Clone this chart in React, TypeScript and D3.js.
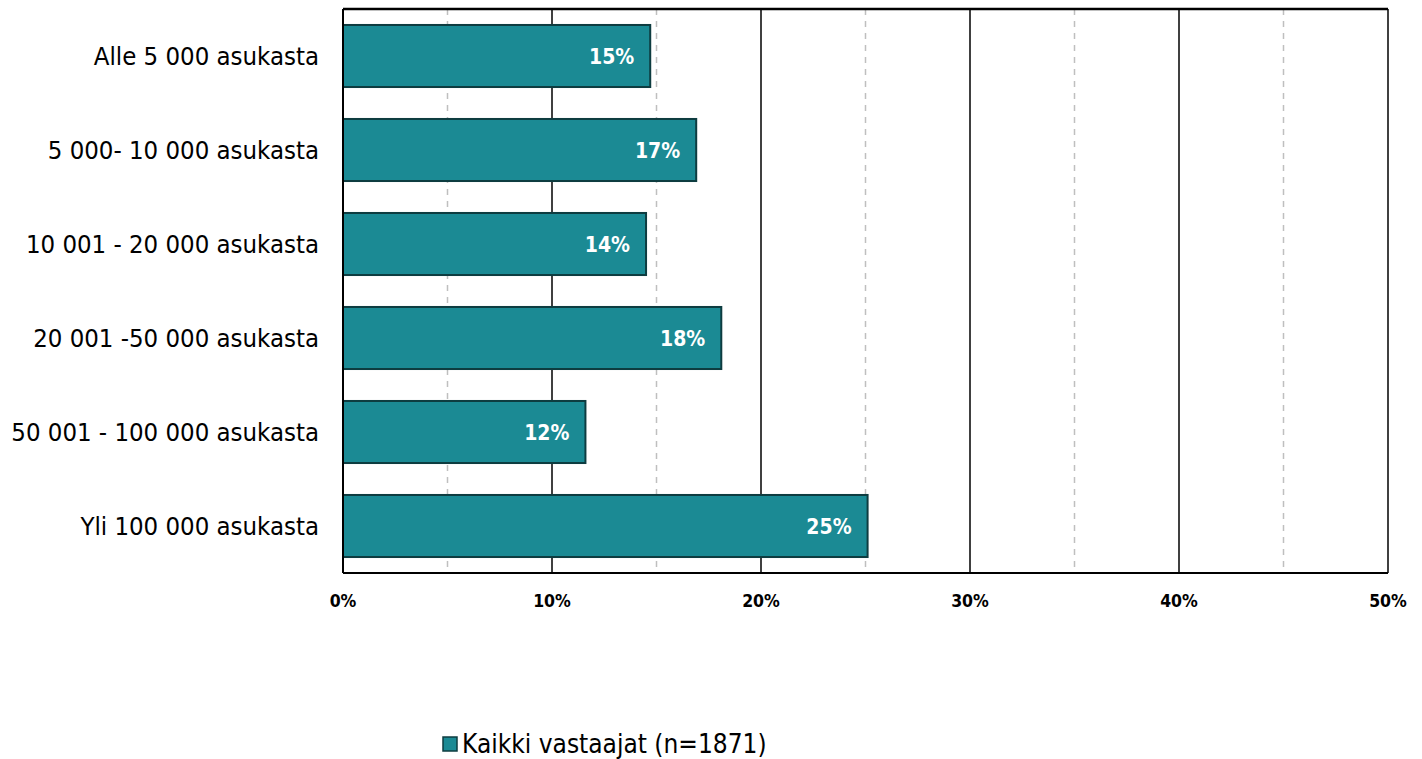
import React from "react";
import * as d3 from "d3";

const categories = [
  "Alle 5 000 asukasta",
  "5 000- 10 000 asukasta",
  "10 001 - 20 000 asukasta",
  "20 001 -50 000 asukasta",
  "50 001 - 100 000 asukasta",
  "Yli 100 000 asukasta",
];
const values = [14.7, 16.9, 14.5, 18.1, 11.6, 25.1];
const labels = ["15%", "17%", "14%", "18%", "12%", "25%"];
const majorTicks = [0, 10, 20, 30, 40, 50];
const minorTicks = [5, 15, 25, 35, 45];
const seriesName = "Kaikki vastaajat (n=1871)";

const W = 1422;
const H = 759;
const left = 343;
const right = 1388;
const top = 9;
const bottom = 573;
const font = "'DejaVu Sans Condensed', 'DejaVu Sans', sans-serif";

export default function App() {
  const x = d3.scaleLinear().domain([0, 50]).range([left, right]);
  const y = d3
    .scaleBand<string>()
    .domain(categories)
    .range([top, bottom])
    .paddingInner(0.34)
    .paddingOuter(0.17);

  return (
    <svg
      width={W}
      height={H}
      style={{ position: "absolute", left: 0, top: 0, background: "#fff" }}
    >
      {minorTicks.map((t) => (
        <line
          key={"m" + t}
          x1={x(t)}
          x2={x(t)}
          y1={top}
          y2={bottom}
          stroke="#bfbfbf"
          strokeWidth={1.5}
          strokeDasharray="6,6"
        />
      ))}
      {majorTicks.slice(1).map((t) => (
        <line
          key={"M" + t}
          x1={x(t)}
          x2={x(t)}
          y1={top}
          y2={bottom}
          stroke="#000"
          strokeWidth={1.5}
        />
      ))}
      <line x1={left} x2={right} y1={top} y2={top} stroke="#000" strokeWidth={2.5} />
      {categories.map((c, i) => (
        <g key={c}>
          <rect
            x={x(0)}
            y={y(c)}
            width={x(values[i]) - x(0)}
            height={y.bandwidth()}
            fill="#1b8a94"
            stroke="#0e3c40"
            strokeWidth={2}
          />
          <text
            x={x(values[i]) - 16}
            y={(y(c) as number) + y.bandwidth() / 2}
            dy="0.36em"
            textAnchor="end"
            fill="#fff"
            fontFamily={font}
            fontWeight="bold"
            fontSize={21}
          >
            {labels[i]}
          </text>
          <text
            x={left - 24}
            y={(y(c) as number) + y.bandwidth() / 2}
            dy="0.36em"
            textAnchor="end"
            fill="#000"
            fontFamily={font}
            fontSize={25.5}
          >
            {c}
          </text>
        </g>
      ))}
      <line x1={left} x2={left} y1={top} y2={bottom} stroke="#000" strokeWidth={2} />
      <line x1={left} x2={right} y1={bottom} y2={bottom} stroke="#000" strokeWidth={2} />
      {majorTicks.map((t) => (
        <text
          key={"t" + t}
          x={x(t)}
          y={601}
          dy="0.36em"
          textAnchor="middle"
          fill="#000"
          fontFamily={font}
          fontWeight="bold"
          fontSize={17.5}
        >
          {t + "%"}
        </text>
      ))}
      <rect x={443} y={737} width={14} height={14} fill="#1b8a94" stroke="#0e3c40" strokeWidth={1.5} />
      <text x={462} y={744} dy="0.36em" fill="#000" fontFamily={font} fontSize={26}>
        {seriesName}
      </text>
    </svg>
  );
}
